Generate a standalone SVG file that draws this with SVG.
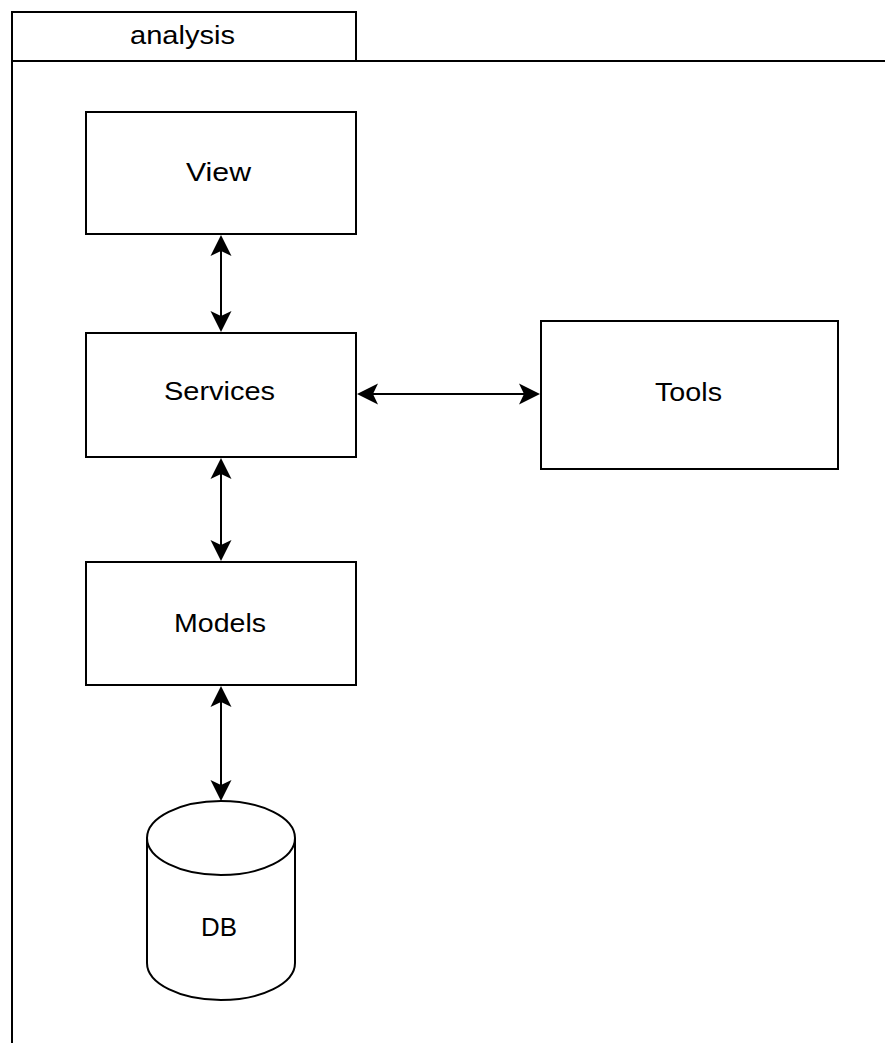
<svg xmlns="http://www.w3.org/2000/svg" width="885" height="1043" viewBox="0 0 885 1043">
  <style>
    .shape { fill: #ffffff; stroke: #000000; stroke-width: 2; }
    .label { font-family: "Liberation Sans", Arial, sans-serif; font-size: 26px; fill: #000000; }
    .link { fill: none; stroke: #000000; stroke-width: 2; marker-start: url(#head); marker-end: url(#head); }
  </style>
  <defs>
    <!-- notched arrowhead; the reference point is the notch, tip lies 16px ahead -->
    <marker id="head" markerUnits="userSpaceOnUse" markerWidth="1" markerHeight="1"
            refX="0" refY="0" orient="auto-start-reverse" overflow="visible">
      <path d="M16,0 L-5,-10.5 L0,0 L-5,10.5 Z" fill="#000000" stroke="none"/>
    </marker>
  </defs>

  <rect width="885" height="1043" fill="#ffffff"/>

  <!-- package frame -->
  <g id="package-analysis">
    <rect class="shape" x="12" y="61" width="900" height="1010"/>
    <rect class="shape" x="12" y="12" width="344" height="49"/>
    <text class="label" x="130" y="44" textLength="105" lengthAdjust="spacingAndGlyphs">analysis</text>
  </g>

  <g id="node-view">
    <rect class="shape" x="86" y="112" width="270" height="122"/>
    <text class="label" x="186" y="181" textLength="65" lengthAdjust="spacingAndGlyphs">View</text>
  </g>

  <g id="node-services">
    <rect class="shape" x="86" y="333" width="270" height="124"/>
    <text class="label" x="164" y="400" textLength="111" lengthAdjust="spacingAndGlyphs">Services</text>
  </g>

  <g id="node-tools">
    <rect class="shape" x="541" y="321" width="297" height="148"/>
    <text class="label" x="655" y="401" textLength="67" lengthAdjust="spacingAndGlyphs">Tools</text>
  </g>

  <g id="node-models">
    <rect class="shape" x="86" y="562" width="270" height="123"/>
    <text class="label" x="174" y="632" textLength="92" lengthAdjust="spacingAndGlyphs">Models</text>
  </g>

  <g id="node-db">
    <path class="shape" d="M147,838 A74,37 0 0 1 295,838 L295,963 A74,37 0 0 1 147,963 Z"/>
    <path class="shape" fill="none" d="M147,838 A74,37 0 0 0 295,838"/>
    <text class="label" x="201" y="936" textLength="36" lengthAdjust="spacingAndGlyphs">DB</text>
  </g>

  <g id="connectors">
    <line class="link" x1="221" y1="251" x2="221" y2="316"/>
    <line class="link" x1="221" y1="474" x2="221" y2="545"/>
    <line class="link" x1="221" y1="702" x2="221" y2="785"/>
    <line class="link" x1="373" y1="394" x2="524" y2="394"/>
  </g>
</svg>
